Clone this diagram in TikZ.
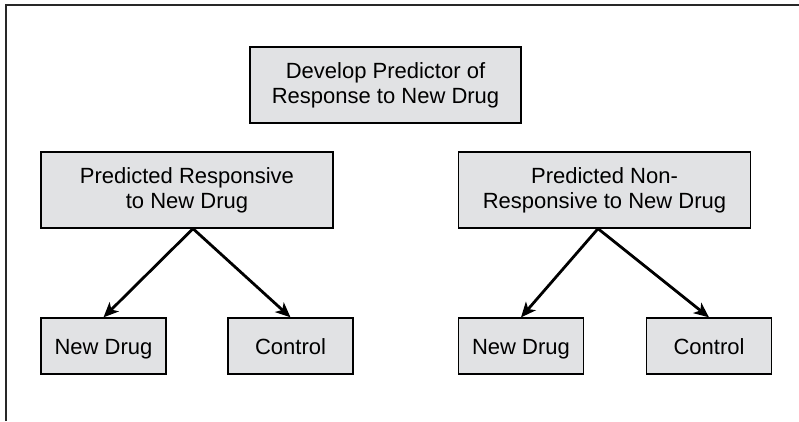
\documentclass[tikz,border=0pt]{standalone}
\usepackage{fontspec}
\setmainfont{Liberation Sans}
\usetikzlibrary{arrows.meta}

\definecolor{boxgray}{RGB}{225,226,228}
\definecolor{framegray}{RGB}{40,40,40}

\begin{document}
\begin{tikzpicture}[x=1pt,y=-1pt,
    box/.style={draw=black,fill=boxgray,line width=1.3pt,rectangle,
      align=center,inner sep=0pt,
      font=\fontsize{22}{25}\selectfont},
    bigbox/.style={box,minimum width=292pt,minimum height=76pt},
    armbox/.style={box,minimum width=125pt,minimum height=56pt,
      text height=16pt,text depth=0pt},
    arm/.style={line width=2.8pt,-{Stealth[length=15pt,width=13pt,inset=4pt]}}]
  \useasboundingbox (0,0) rectangle (799,421);
  % Frame (top and left only)
  \draw[framegray,line width=1.6pt] (6,421) -- (6,5) -- (799,5);
  % Predictor box
  \node[box,minimum width=271pt,minimum height=76pt] (predictor) at (385.5,85)
    {Develop Predictor of\\Response to New Drug};
  % Predicted groups
  \node[bigbox] (resp) at (187,190) {Predicted Responsive\\to New Drug};
  \node[bigbox] (nonresp) at (604.5,190) {Predicted Non-\\Responsive to New Drug};
  % Treatment arms
  \node[armbox] (respdrug) at (103.5,346) {New Drug};
  \node[armbox] (respctrl) at (290.5,346) {Control};
  \node[armbox] (nonrespdrug) at (521,346) {New Drug};
  \node[armbox] (nonrespctrl) at (709,346) {Control};
  % Arrows
  \draw[arm] ([xshift=6pt]resp.south) -- (respdrug.north);
  \draw[arm] ([xshift=6pt]resp.south) -- (respctrl.north);
  \draw[arm] ([xshift=-6.5pt]nonresp.south) -- (nonrespdrug.north);
  \draw[arm] ([xshift=-6.5pt]nonresp.south) -- (nonrespctrl.north);
\end{tikzpicture}
\end{document}
